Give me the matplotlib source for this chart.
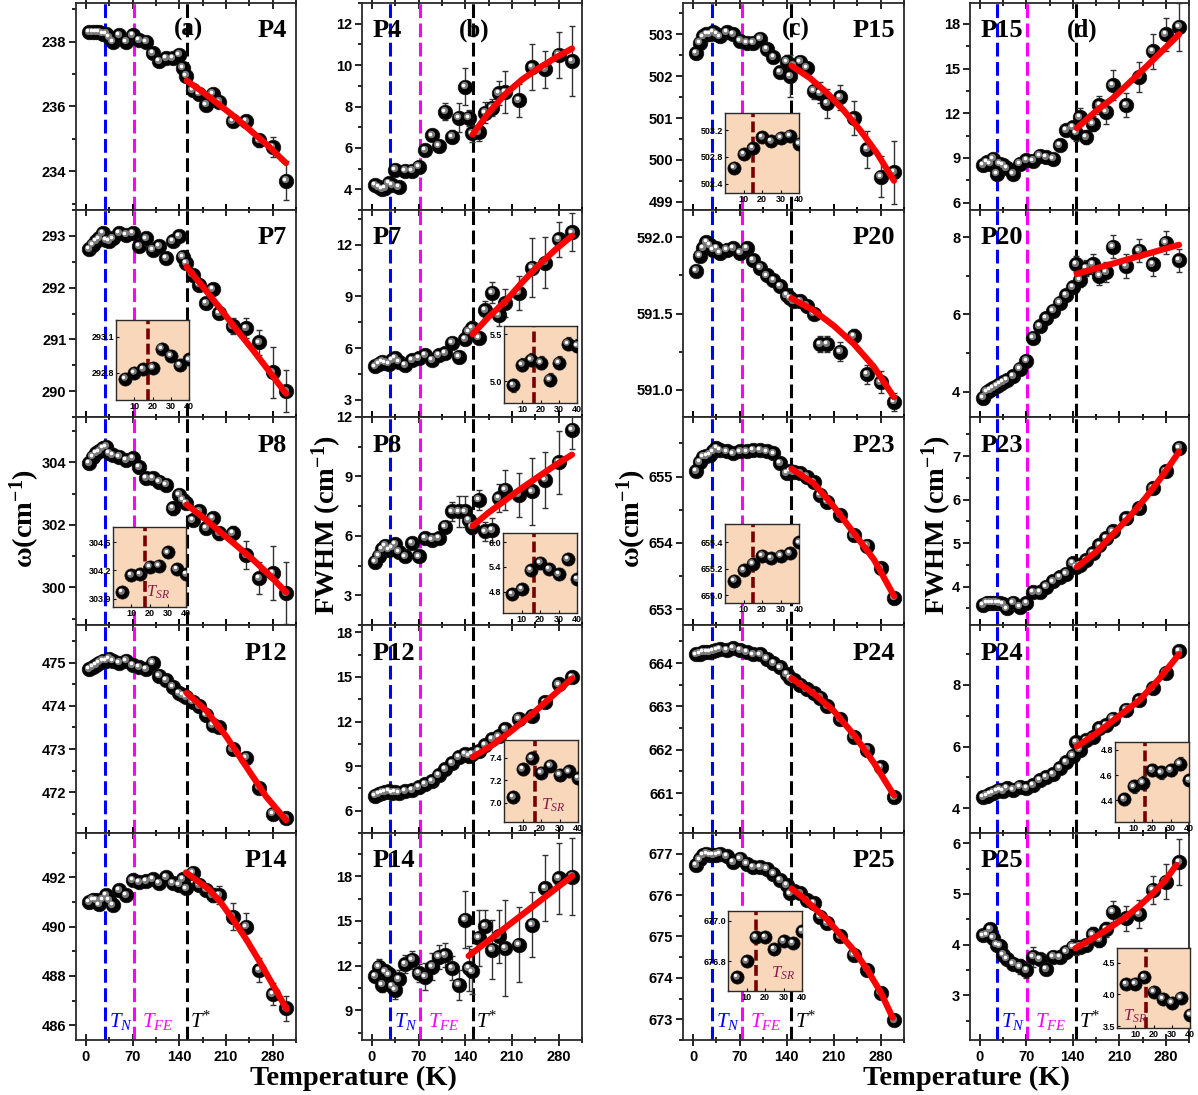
import matplotlib
matplotlib.use("Agg")
import matplotlib.pyplot as plt
import matplotlib.transforms as mtransforms
from matplotlib.ticker import MultipleLocator, FixedLocator, FormatStrFormatter

plt.rcParams["font.family"] = ["Liberation Sans", "DejaVu Sans"]
plt.rcParams["font.weight"] = "bold"
plt.rcParams["mathtext.fontset"] = "custom"
plt.rcParams["mathtext.rm"] = "Liberation Serif:weight=normal"
plt.rcParams["mathtext.it"] = "Liberation Serif:style=italic:weight=normal"
plt.rcParams["mathtext.bf"] = "Liberation Serif:weight=bold"

FIG_W, FIG_H = 1198, 1095
COL_X = {"a": (76, 296), "b": (362, 582), "c": (683, 904), "d": (970, 1189)}
ROW_Y = [3, 210, 417, 625, 833, 1040]

# transition temperatures as drawn in each column
T_N = {"a": 28.5, "b": 27.5, "c": 29, "d": 25}
T_FE = {"a": 72, "b": 72.5, "c": 72.5, "d": 71.5}
T_STAR = {"a": 151, "b": 151, "c": 147, "d": 144}
T_SR = {"a": 17.5, "b": 16.5, "c": 15, "d": 16}

T = [5, 10, 15, 20, 25, 30, 35, 40, 50, 60, 70, 80, 90, 100, 110, 120, 130, 140, 145,
     150, 160, 170, 180, 190, 200, 220, 240, 260, 280, 300]
T_INSET = [5, 10, 15, 20, 25, 30, 35, 40]

# ---- column (a): frequency, column (b): FWHM ----
A_P4 = [238.3, 238.3, 238.3, 238.3, 238.25, 238.25, 238.15, 238.0, 238.2, 238.0, 238.2, 238.05,
        238.0, 237.65, 237.4, 237.5, 237.5, 237.6, 237.2, 236.95, 236.5, 236.4, 236.05, 236.4,
        236.15, 235.55, 235.55, 234.95, 234.75, 233.7]
A_P4_ERR = [0] * 17 + [0.15, 0.1, 0.1, 0.08, 0.1, 0.1, 0.1, 0.1, 0.1, 0.15, 0.2, 0.3, 0.6]
A_P4_FIT_T = [151, 175, 200, 225, 250, 275, 300]
A_P4_FIT = [236.8, 236.45, 236.05, 235.65, 235.2, 234.75, 234.25]

B_P4 = [4.2, 4.1, 4.0, 4.05, 4.3, 4.2, 4.95, 4.1, 4.9, 4.9, 5.1, 5.9, 6.6, 6.1, 7.75, 6.55,
        7.45, 8.95, 7.45, 6.7, 6.75, 7.7, 7.95, 8.65, 8.7, 8.3, 9.9, 9.8, 10.5, 10.2]
B_P4_ERR = [0] * 14 + [0.4, 0.3, 0.7, 0.9, 0.4, 0.4, 0.4, 0.5, 0.4, 0.6, 1.0, 0.8, 1.1, 0.9, 1.1, 1.7]
B_P4_FIT_T = [151, 175, 200, 225, 250, 275, 300]
B_P4_FIT = [6.65, 7.7, 8.6, 9.3, 9.85, 10.35, 10.8]

A_P7 = [292.74, 292.83, 292.9, 292.95, 293.05, 292.92, 292.9, 292.95, 293.05, 293.02, 293.05,
        292.8, 292.95, 292.73, 292.8, 292.57, 292.9, 292.99, 292.6, 292.47, 292.25, 292.06,
        291.7, 291.97, 291.51, 291.26, 291.22, 290.94, 290.36, 290.0]
A_P7_ERR = [0] * 20 + [0.05, 0.1, 0.1, 0.08, 0.12, 0.15, 0.2, 0.25, 0.5, 0.4]
A_P7_FIT_T = [151, 175, 200, 225, 250, 275, 300]
A_P7_FIT = [292.4, 292.02, 291.62, 291.2, 290.8, 290.38, 289.95]

B_P7 = [4.93, 5.1, 5.2, 5.15, 5.1, 5.3, 5.4, 5.2, 5.0, 5.3, 5.4, 5.6, 5.3, 5.6, 5.7, 6.3, 5.5,
        6.5, 6.95, 7.15, 6.6, 8.2, 9.2, 7.9, 8.6, 9.2, 10.65, 10.95, 12.3, 12.7]
B_P7_ERR = [0] * 18 + [0.3, 0.4, 0.3, 0.5, 0.6, 0.6, 0.8, 1.0, 1.7, 1.5, 1.0, 1.1]
B_P7_FIT_T = [151, 175, 200, 225, 250, 275, 300]
B_P7_FIT = [6.8, 7.8, 8.7, 9.8, 10.8, 11.7, 12.5]

A_P8 = [303.97, 304.18, 304.29, 304.35, 304.45, 304.5, 304.29, 304.23, 304.18, 304.07, 304.13,
        303.85, 303.49, 303.49, 303.38, 303.28, 302.53, 302.96, 302.8, 302.69, 302.16, 302.43,
        301.9, 302.21, 301.73, 301.73, 301.04, 300.3, 300.46, 299.82]
A_P8_ERR = [0] * 16 + [0.2, 0.1, 0.1, 0.1, 0.15, 0.15, 0.2, 0.15, 0.2, 0.25, 0.45, 0.5, 0.85, 1.0]
A_P8_FIT_T = [151, 175, 200, 225, 250, 275, 300]
A_P8_FIT = [302.65, 302.25, 301.8, 301.35, 300.9, 300.4, 299.85]

B_P8 = [4.7, 5.0, 5.33, 5.5, 5.3, 5.4, 5.58, 5.2, 4.96, 5.63, 4.96, 5.88, 5.8, 5.88, 6.47, 7.23,
        7.23, 7.23, 6.8, 6.47, 7.82, 6.22, 6.3, 7.9, 8.32, 8.07, 8.24, 8.83, 9.71, 11.36]
B_P8_ERR = [0] * 14 + [0.3, 0.5, 0.8, 0.8, 0.5, 0.4, 0.5, 0.5, 0.6, 0.7, 1.0, 1.1, 1.7, 1.4, 1.6, 1.0]
B_P8_FIT_T = [151, 175, 200, 225, 250, 275, 300]
B_P8_FIT = [6.5, 7.18, 7.8, 8.42, 9.0, 9.57, 10.1]

A_P12 = [474.85, 474.9, 474.95, 475.0, 475.05, 475.05, 475.1, 475.05, 475.0, 475.05, 474.95,
         474.9, 474.85, 475.0, 474.7, 474.6, 474.45, 474.3, 474.25, 474.2, 474.1, 474.0, 473.8,
         473.55, 473.5, 473.0, 472.8, 472.1, 471.5, 471.4]
A_P12_ERR = [0] * 30
A_P12_FIT_T = [151, 180, 210, 240, 270, 300]
A_P12_FIT = [474.3, 473.9, 473.3, 472.6, 471.9, 471.35]

B_P12 = [7.0, 7.1, 7.2, 7.25, 7.3, 7.2, 7.25, 7.2, 7.3, 7.4, 7.6, 7.8, 8.0, 8.4, 8.8, 9.2, 9.6,
         9.8, 9.7, 9.8, 10.0, 10.4, 10.8, 11.0, 11.5, 12.2, 12.4, 13.3, 14.5, 15.0]
B_P12_ERR = [0] * 30
B_P12_FIT_T = [151, 180, 210, 240, 270, 300]
B_P12_FIT = [9.6, 10.4, 11.4, 12.5, 13.7, 14.9]

A_P14 = [491.0, 491.1, 491.08, 490.9, 491.1, 491.28, 491.08, 490.88, 491.49, 491.28, 491.89,
         491.8, 491.85, 491.92, 491.76, 492.0, 491.76, 491.7, 491.92, 491.55, 492.19, 491.69,
         491.5, 491.28, 491.28, 490.4, 490.0, 488.24, 487.27, 486.69]
A_P14_ERR = [0] * 19 + [0.1, 0.15, 0.15, 0.2, 0.3, 0.35, 0.55, 0.55, 0.5, 0.45, 0.5]
A_P14_FIT_T = [150, 170, 185, 203, 221, 240, 260, 280, 301]
A_P14_FIT = [492.2, 491.8, 491.5, 490.95, 490.27, 489.5, 488.6, 487.65, 486.65]

B_P14 = [11.3, 11.93, 10.7, 11.6, 11.4, 10.6, 10.37, 11.08, 12.1, 12.38, 11.5, 11.26, 11.93,
         12.6, 12.7, 11.82, 10.7, 15.08, 11.82, 11.6, 13.86, 14.63, 13.07, 13.96, 13.18, 13.4,
         14.74, 17.19, 17.86, 17.97]
B_P14_ERR = [0.4, 0.5, 0.5, 0.4, 0.5, 0.5, 0.6, 0.6, 0.6, 0.6, 0.6, 0.9, 0.9, 0.8, 0.8, 0.8,
             1.0, 1.9, 1.5, 1.5, 1.9, 1.1, 2.0, 1.8, 3.2, 2.5, 2.2, 2.2, 2.4, 2.6]
B_P14_FIT_T = [145, 300]
B_P14_FIT = [12.65, 18.0]

# ---- column (c): frequency, column (d): FWHM ----
C_P15 = [502.55, 502.8, 502.95, 503.0, 503.0, 503.05, 503.0, 502.95, 503.05, 503.0, 502.85,
         502.8, 502.8, 502.9, 502.65, 502.45, 502.1, 502.35, 502.0, 502.25, 502.35, 502.2,
         501.65, 501.6, 501.35, 501.5, 501.0, 500.25, 499.6, 499.7]
C_P15_ERR = [0] * 16 + [0.05, 0.15, 0.5, 0.15, 0.1, 0.1, 0.2, 0.25, 0.35, 0.3, 0.4, 0.45, 0.5, 0.75]
C_P15_FIT_T = [147, 175, 200, 225, 250, 275, 300]
C_P15_FIT = [502.25, 501.95, 501.6, 501.18, 500.7, 500.15, 499.5]

D_P15 = [8.5, 8.7, 8.6, 8.95, 7.95, 8.6, 8.5, 8.3, 7.95, 8.6, 8.85, 8.8, 9.15, 9.05, 8.95, 9.85,
         10.85, 11.05, 10.7, 11.75, 10.4, 11.3, 12.55, 12.1, 13.9, 12.55, 14.45, 16.15, 17.3, 17.8]
D_P15_ERR = [0] * 18 + [0.6, 0.6, 0.5, 0.5, 0.6, 0.8, 1.0, 0.8, 1.0, 1.2, 1.1, 1.6]
D_P15_FIT_T = [146, 175, 200, 225, 250, 275, 300]
D_P15_FIT = [11.0, 12.15, 13.0, 14.05, 15.1, 16.2, 17.3]

C_P20 = [591.78, 591.88, 591.93, 591.97, 591.95, 591.92, 591.93, 591.9, 591.92, 591.93, 591.9,
         591.93, 591.85, 591.8, 591.75, 591.72, 591.68, 591.62, 591.6, 591.58, 591.58, 591.55,
         591.5, 591.3, 591.3, 591.25, 591.35, 591.1, 591.05, 590.92]
C_P20_ERR = [0] * 22 + [0.03, 0.05, 0.05, 0.06, 0.05, 0.06, 0.07, 0.06]
C_P20_FIT_T = [147, 180, 210, 240, 270, 300]
C_P20_FIT = [591.6, 591.52, 591.42, 591.3, 591.15, 590.95]

D_P20 = [3.85, 4.0, 4.05, 4.1, 4.15, 4.2, 4.25, 4.3, 4.4, 4.6, 4.8, 5.4, 5.7, 5.9, 6.1, 6.3,
         6.5, 6.7, 7.3, 6.9, 7.2, 7.3, 7.0, 7.1, 7.75, 7.25, 7.65, 7.3, 7.85, 7.4]
D_P20_ERR = [0] * 18 + [0.2, 0.2, 0.2, 0.25, 0.25, 0.25, 0.3, 0.3, 0.3, 0.3, 0.3, 0.3]
D_P20_FIT_T = [146, 300]
D_P20_FIT = [7.05, 7.8]

C_P23 = [655.08, 655.22, 655.3, 655.31, 655.33, 655.38, 655.43, 655.4, 655.38, 655.35, 655.38,
         655.38, 655.4, 655.4, 655.38, 655.35, 655.2, 655.05, 655.08, 655.07, 655.05, 655.0,
         654.92, 654.72, 654.62, 654.42, 654.12, 653.96, 653.62, 653.17]
C_P23_ERR = [0.02] * 30
C_P23_FIT_T = [147, 180, 210, 240, 270, 300]
C_P23_FIT = [655.12, 654.9, 654.55, 654.15, 653.75, 653.2]

D_P23 = [3.58, 3.63, 3.63, 3.63, 3.63, 3.62, 3.6, 3.5, 3.63, 3.54, 3.62, 3.88, 3.88, 4.0, 4.12,
         4.22, 4.3, 4.54, 4.46, 4.5, 4.61, 4.77, 4.96, 5.12, 5.27, 5.58, 5.81, 6.27, 6.65, 7.19]
D_P23_ERR = [0.03] * 30
D_P23_FIT_T = [146, 175, 200, 225, 250, 275, 300]
D_P23_FIT = [4.45, 4.8, 5.2, 5.6, 6.05, 6.55, 7.1]

C_P24 = [664.2, 664.22, 664.25, 664.25, 664.25, 664.28, 664.3, 664.32, 664.3, 664.35, 664.3,
         664.25, 664.2, 664.2, 664.1, 664.0, 663.9, 663.75, 663.65, 663.6, 663.5, 663.4, 663.3,
         663.2, 663.0, 662.7, 662.3, 662.0, 661.6, 660.9]
C_P24_ERR = [0.02] * 30
C_P24_FIT_T = [147, 180, 210, 240, 270, 300]
C_P24_FIT = [663.65, 663.3, 662.9, 662.35, 661.7, 660.95]

D_P24 = [4.35, 4.4, 4.45, 4.5, 4.55, 4.6, 4.55, 4.65, 4.6, 4.7, 4.65, 4.75, 4.9, 5.0, 5.1, 5.3,
         5.5, 5.7, 6.15, 5.9, 6.2, 6.3, 6.6, 6.7, 6.9, 7.2, 7.5, 7.9, 8.4, 9.1]
D_P24_ERR = [0.05] * 30
D_P24_FIT_T = [146, 180, 210, 240, 270, 300]
D_P24_FIT = [6.0, 6.5, 7.0, 7.5, 8.2, 9.0]

C_P25 = [676.72, 676.86, 676.96, 677.0, 676.98, 676.96, 676.98, 677.0, 676.94, 676.8, 676.88,
         676.76, 676.68, 676.68, 676.64, 676.52, 676.36, 676.24, 676.04, 676.1, 676.04, 675.88,
         675.8, 675.48, 675.32, 675.0, 674.56, 674.2, 673.64, 672.98]
C_P25_ERR = [0.03] * 30
C_P25_FIT_T = [147, 165, 180, 200, 218, 240, 260, 280, 298]
C_P25_FIT = [676.16, 675.93, 675.7, 675.42, 675.08, 674.67, 674.2, 673.66, 673.04]

D_P25 = [4.18, 4.2, 4.3, 4.14, 4.0, 3.98, 3.8, 3.72, 3.62, 3.57, 3.5, 3.76, 3.71, 3.52, 3.76,
         3.75, 3.86, 3.96, 3.95, 3.96, 4.0, 4.2, 4.1, 4.3, 4.65, 4.52, 4.6, 5.08, 5.24, 5.63]
D_P25_ERR = [0.05, 0.05, 0.08, 0.05, 0.1, 0.05, 0.08, 0.08, 0.1, 0.15, 0.15, 0.2, 0.1, 0.1, 0.1,
             0.1, 0.1, 0.15, 0.15, 0.1, 0.1, 0.15, 0.15, 0.15, 0.2, 0.25, 0.28, 0.28, 0.35, 0.45]
D_P25_FIT_T = [144, 162, 180, 200, 220, 240, 260, 280, 296]
D_P25_FIT = [3.93, 4.06, 4.2, 4.37, 4.55, 4.76, 5.0, 5.28, 5.57]

# ---- insets (0-40 K) ----
INS_A_P7 = [292.75, 292.80, 292.83, 292.84, 293.0, 292.94, 292.86, 292.91]
INS_A_P8 = [303.97, 304.15, 304.16, 304.24, 304.25, 304.39, 304.21, 304.16]
INS_B_P7 = [4.96, 5.18, 5.23, 5.2, 5.02, 5.2, 5.4, 5.38]
INS_B_P8 = [4.74, 4.86, 5.32, 5.5, 5.34, 5.22, 5.58, 5.1]
INS_B_P12 = [7.05, 7.3, 7.4, 7.27, 7.33, 7.25, 7.28, 7.22]
INS_C_P15 = [502.64, 502.84, 502.93, 503.1, 503.04, 503.09, 503.12, 503.0]
INS_C_P23 = [655.11, 655.19, 655.24, 655.3, 655.28, 655.3, 655.32, 655.4]
INS_C_P25 = [676.72, 676.8, 676.92, 676.92, 676.86, 676.9, 676.89, 676.95]
INS_D_P24 = [4.41, 4.51, 4.54, 4.64, 4.62, 4.64, 4.69, 4.56]
INS_D_P25 = [4.16, 4.17, 4.27, 4.04, 3.93, 3.87, 3.95, 3.68]


def px_rect(x0, x1, y0, y1):
    return [x0 / FIG_W, 1 - y1 / FIG_H, (x1 - x0) / FIG_W, (y1 - y0) / FIG_H]


def spheres(ax, x, y, ms):
    fig = ax.figure
    ax.plot(x, y, "o", ms=ms, mfc="black", mec="#111111", mew=0.5, ls="none", zorder=4)
    off1 = mtransforms.offset_copy(ax.transData, fig=fig, x=-1.4, y=1.4, units="dots")
    ax.plot(x, y, "o", ms=ms * 0.5, mfc="#7a7a7a", mec="none", ls="none", transform=off1, zorder=5)
    off2 = mtransforms.offset_copy(ax.transData, fig=fig, x=-1.9, y=1.9, units="dots")
    ax.plot(x, y, "o", ms=ms * 0.25, mfc="white", mec="none", ls="none", transform=off2, zorder=6)


def style_spines(ax, lw=1.3):
    for s in ax.spines.values():
        s.set_linewidth(lw)
        s.set_color("#2a2a2a")


def draw_panel(fig, col, row, name, vals, errs, fit_t, fit_v, ylim, major, minor, fmt):
    x0, x1 = COL_X[col]
    ax = fig.add_axes(px_rect(x0, x1, ROW_Y[row], ROW_Y[row + 1]))
    ax.set_xlim(-15, 315)
    ax.set_ylim(*ylim)

    dash = (0, (4.5, 1.8))
    ax.axvline(T_N[col], color="#0000ff", lw=2.2, ls=dash, zorder=2)
    ax.axvline(T_FE[col], color="#ff00ff", lw=2.2, ls=dash, zorder=2)
    ax.axvline(T_STAR[col], color="black", lw=2.2, ls=dash, zorder=2)

    ax.errorbar(T, vals, yerr=errs, fmt="none", ecolor="#333333", elinewidth=1.0,
                capsize=2.5, capthick=1.0, zorder=3)
    spheres(ax, T, vals, 10.5)
    ax.plot(fit_t, fit_v, color="red", lw=4.5, solid_capstyle="round",
            solid_joinstyle="round", zorder=7)

    ax.xaxis.set_major_locator(FixedLocator([0, 70, 140, 210, 280]))
    ax.xaxis.set_minor_locator(MultipleLocator(35))
    ax.yaxis.set_major_locator(MultipleLocator(major))
    ax.yaxis.set_minor_locator(MultipleLocator(minor))
    ax.yaxis.set_major_formatter(FormatStrFormatter(fmt))
    ax.tick_params(axis="y", which="both", direction="out", left=True, right=False,
                   labelsize=10.5, width=1.2, pad=2)
    ax.tick_params(axis="y", which="major", length=5)
    ax.tick_params(axis="y", which="minor", length=3)
    ax.tick_params(axis="x", which="both", direction="inout", top=True, bottom=True,
                   labelsize=10.5, width=1.2, pad=3)
    ax.tick_params(axis="x", which="major", length=8)
    ax.tick_params(axis="x", which="minor", length=5)
    if row < 4:
        ax.tick_params(axis="x", labelbottom=False)
    style_spines(ax)

    serif_bold = dict(fontweight="bold", family="Liberation Serif", va="center", zorder=8)
    if col in ("a", "c"):
        ax.text(0.96, 0.865, name, transform=ax.transAxes, ha="right", fontsize=19, **serif_bold)
    else:
        ax.text(0.05, 0.865, name, transform=ax.transAxes, ha="left", fontsize=19, **serif_bold)

    if row == 0:
        ax.text(0.51, 0.87, "(%s)" % col, transform=ax.transAxes, ha="center", fontsize=18,
                **serif_bold)

    if row == 4:
        tr = mtransforms.blended_transform_factory(ax.transData, ax.transAxes)
        ax.text(T_N[col] + 6, 0.09, r"$T_N$", transform=tr, color="#0000ff",
                fontsize=15, ha="left", va="center")
        ax.text(T_FE[col] + 12, 0.09, r"$T_{FE}$", transform=tr, color="#ff00ff",
                fontsize=15, ha="left", va="center")
        ax.text(T_STAR[col] + 5, 0.09, r"$T^{*}$", transform=tr, color="black",
                fontsize=15, ha="left", va="center")
    return ax


def draw_inset(fig, col, rect, vals, err, ylim, yticks, sr_label=None):
    ax = fig.add_axes(px_rect(*rect))
    ax.set_facecolor("#f9d7bb")
    ax.set_xlim(0, 40)
    ax.set_ylim(*ylim)
    ax.axvline(T_SR[col], color="#7a0000", lw=2.6, ls=(0, (3.0, 1.2)), zorder=2)
    ax.errorbar(T_INSET, vals, yerr=err, fmt="none", ecolor="#333333", elinewidth=0.9,
                capsize=1.8, capthick=0.9, zorder=3)
    spheres(ax, T_INSET, vals, 9.5)
    ax.xaxis.set_major_locator(FixedLocator([10, 20, 30, 40]))
    ax.yaxis.set_major_locator(FixedLocator(yticks))
    ax.yaxis.set_major_formatter(FormatStrFormatter("%.1f"))
    ax.tick_params(which="both", direction="in", length=2, width=0.8, labelsize=6.5, pad=1.5)
    style_spines(ax, 1.0)
    if sr_label is not None:
        ax.text(sr_label[0], sr_label[1], r"$T_{SR}$", transform=ax.transAxes,
                color="#8b1a4a", fontsize=12, ha="center", va="center", zorder=8)
    return ax


def main():
    fig = plt.figure(figsize=(FIG_W / 100, FIG_H / 100), dpi=100)

    draw_panel(fig, "a", 0, "P4", A_P4, A_P4_ERR, A_P4_FIT_T, A_P4_FIT, (232.8, 239.2), 2, 1, "%d")
    draw_panel(fig, "a", 1, "P7", A_P7, A_P7_ERR, A_P7_FIT_T, A_P7_FIT, (289.5, 293.5), 1, 0.5, "%d")
    draw_panel(fig, "a", 2, "P8", A_P8, A_P8_ERR, A_P8_FIT_T, A_P8_FIT, (298.8, 305.45), 2, 1, "%d")
    draw_panel(fig, "a", 3, "P12", A_P12, A_P12_ERR, A_P12_FIT_T, A_P12_FIT, (471.05, 475.88), 1, 0.5, "%d")
    draw_panel(fig, "a", 4, "P14", A_P14, A_P14_ERR, A_P14_FIT_T, A_P14_FIT, (485.4, 493.8), 2, 1, "%d")

    draw_panel(fig, "b", 0, "P4", B_P4, B_P4_ERR, B_P4_FIT_T, B_P4_FIT, (3.0, 13.0), 2, 1, "%d")
    draw_panel(fig, "b", 1, "P7", B_P7, B_P7_ERR, B_P7_FIT_T, B_P7_FIT, (2.0, 14.0), 3, 1.5, "%d")
    draw_panel(fig, "b", 2, "P8", B_P8, B_P8_ERR, B_P8_FIT_T, B_P8_FIT, (1.5, 12.0), 3, 1.5, "%d")
    draw_panel(fig, "b", 3, "P12", B_P12, B_P12_ERR, B_P12_FIT_T, B_P12_FIT, (4.5, 18.5), 3, 1.5, "%d")
    draw_panel(fig, "b", 4, "P14", B_P14, B_P14_ERR, B_P14_FIT_T, B_P14_FIT, (7.0, 20.9), 3, 1.5, "%d")

    draw_panel(fig, "c", 0, "P15", C_P15, C_P15_ERR, C_P15_FIT_T, C_P15_FIT, (498.8, 503.75), 1, 0.5, "%d")
    draw_panel(fig, "c", 1, "P20", C_P20, C_P20_ERR, C_P20_FIT_T, C_P20_FIT, (590.82, 592.18), 0.5, 0.25, "%.1f")
    draw_panel(fig, "c", 2, "P23", C_P23, C_P23_ERR, C_P23_FIT_T, C_P23_FIT, (652.76, 655.9), 1, 0.5, "%d")
    draw_panel(fig, "c", 3, "P24", C_P24, C_P24_ERR, C_P24_FIT_T, C_P24_FIT, (660.08, 664.88), 1, 0.5, "%d")
    draw_panel(fig, "c", 4, "P25", C_P25, C_P25_ERR, C_P25_FIT_T, C_P25_FIT, (672.5, 677.5), 1, 0.5, "%d")

    draw_panel(fig, "d", 0, "P15", D_P15, D_P15_ERR, D_P15_FIT_T, D_P15_FIT, (5.5, 19.4), 3, 1.5, "%d")
    draw_panel(fig, "d", 1, "P20", D_P20, D_P20_ERR, D_P20_FIT_T, D_P20_FIT, (3.35, 8.7), 2, 1, "%d")
    draw_panel(fig, "d", 2, "P23", D_P23, D_P23_ERR, D_P23_FIT_T, D_P23_FIT, (3.12, 7.9), 1, 0.5, "%d")
    draw_panel(fig, "d", 3, "P24", D_P24, D_P24_ERR, D_P24_FIT_T, D_P24_FIT, (3.19, 9.95), 2, 1, "%d")
    draw_panel(fig, "d", 4, "P25", D_P25, D_P25_ERR, D_P25_FIT_T, D_P25_FIT, (2.12, 6.2), 1, 0.5, "%d")

    draw_inset(fig, "a", (116, 189, 320, 400), INS_A_P7, 0.01, (292.57, 293.24), [292.8, 293.1])
    draw_inset(fig, "a", (113, 186, 527, 607), INS_A_P8, 0.03, (303.81, 304.66),
               [303.9, 304.2, 304.5], sr_label=(0.62, 0.18))
    draw_inset(fig, "b", (504, 577, 326, 403), INS_B_P7, 0.07, (4.77, 5.59), [5.0, 5.5])
    draw_inset(fig, "b", (503, 577, 533, 613), INS_B_P8, 0.12, (4.28, 6.22), [4.8, 5.4, 6.0])
    draw_inset(fig, "b", (504, 578, 740, 822), INS_B_P12, 0.05, (6.83, 7.56),
               [7.0, 7.2, 7.4], sr_label=(0.66, 0.2))
    draw_inset(fig, "c", (725, 799, 113, 193), INS_C_P15, 0.01, (502.26, 503.46), [502.4, 502.8, 503.2])
    draw_inset(fig, "c", (725, 799, 524, 603), INS_C_P23, 0.01, (654.94, 655.54), [655.0, 655.2, 655.4])
    draw_inset(fig, "c", (728, 802, 911, 991), INS_C_P25, 0.02, (676.65, 677.05),
               [676.8, 677.0], sr_label=(0.74, 0.22))
    draw_inset(fig, "d", (1115, 1189, 742, 822), INS_D_P24, 0.05, (4.23, 4.86), [4.4, 4.6, 4.8])
    draw_inset(fig, "d", (1117, 1190, 948, 1028), INS_D_P25, 0.08, (3.47, 4.73),
               [3.5, 4.0, 4.5], sr_label=(0.25, 0.15))

    big = dict(fontsize=20.5, fontweight="bold", family="Liberation Serif", ha="center", va="center")
    fig.text(25 / FIG_W, 1 - 518 / FIG_H, r"$\mathbf{\omega(cm^{-1})}$", rotation=90, **big)
    fig.text(632 / FIG_W, 1 - 518 / FIG_H, r"$\mathbf{\omega(cm^{-1})}$", rotation=90, **big)
    fig.text(327 / FIG_W, 1 - 525 / FIG_H, r"$\mathbf{FWHM\ (cm^{-1})}$", rotation=90, **big)
    fig.text(937 / FIG_W, 1 - 525 / FIG_H, r"$\mathbf{FWHM\ (cm^{-1})}$", rotation=90, **big)
    fig.text(353 / FIG_W, 1 - 1078 / FIG_H, "Temperature (K)", **big)
    fig.text(966 / FIG_W, 1 - 1078 / FIG_H, "Temperature (K)", **big)

    fig.savefig("out.png", dpi=100)
    plt.close(fig)


if __name__ == "__main__":
    main()
